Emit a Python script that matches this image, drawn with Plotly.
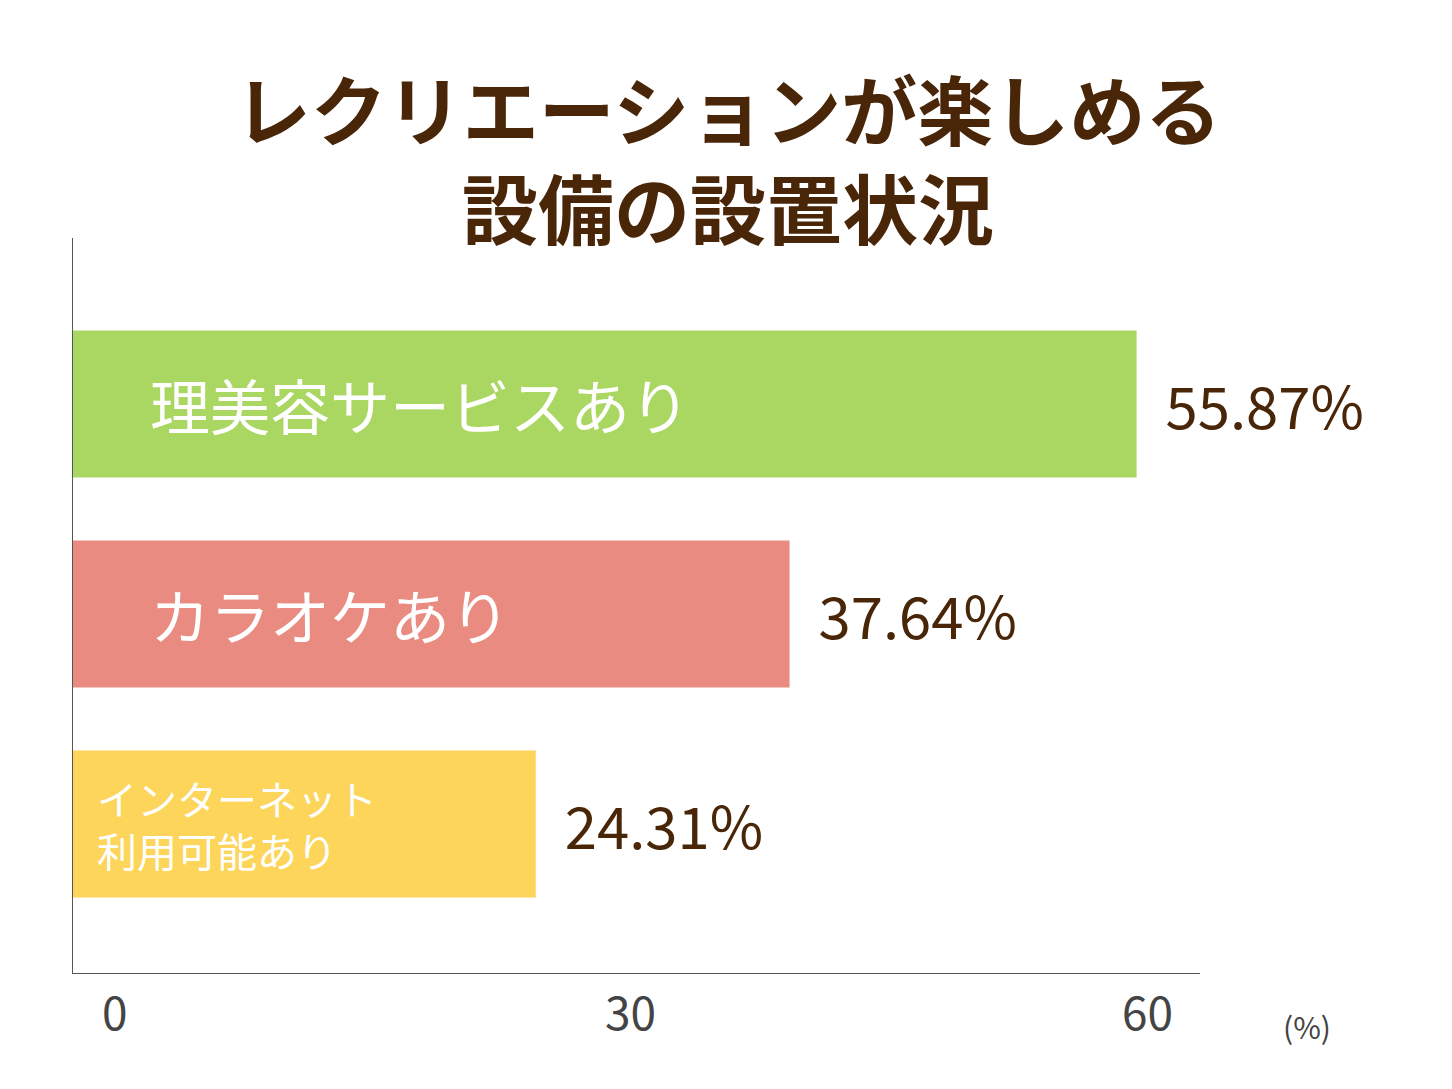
import plotly.graph_objects as go

categories = ["理美容サービスあり", "カラオケあり", "インターネット<br>利用可能あり"]
values = [55.87, 37.64, 24.31]
colors = ["#a9d762", "#ea8b81", "#fcd55a"]
label_sizes = [60, 60, 40]
label_x = [148, 148, 95]
tick_vals = [0, 30, 60]
tick_px = [100, 630, 1175]

OFF = 8  # page offset in the screenshot
W, H = 1452, 1089
L, R, T, B = 73 - OFF, 252 + OFF, 238 - OFF, 116 + OFF
pw = W - L - R
ph = H - T - B
brown = "#4a2608"
font = "Noto Sans CJK JP"

pos = list(range(len(values)))
fig = go.Figure(go.Bar(
    x=values, y=pos, orientation="h", width=0.7,
    marker=dict(color=colors, line=dict(width=0)),
    text=[f"  {v:.2f}%" for v in values], textposition="outside",
    textfont=dict(size=58, color=brown, family=font),
    cliponaxis=False,
))

for i, c in enumerate(categories):
    fig.add_annotation(x=(label_x[i] - OFF - L) / pw, xref="paper", y=pos[i], yref="y",
                       text=c, showarrow=False, xanchor="left", align="left",
                       font=dict(size=label_sizes[i], color="white", family=font))

for v, px in zip(tick_vals, tick_px):
    fig.add_annotation(x=(px - OFF - L) / pw, xref="paper",
                       y=-(1045 - OFF - (H - B)) / ph, yref="paper",
                       text=str(v), showarrow=False,
                       font=dict(size=46, color="#444", family=font))
fig.add_annotation(x=(1333 - OFF - L) / pw, xref="paper",
                   y=-(1050 - OFF - (H - B)) / ph, yref="paper",
                   text="(%)", showarrow=False,
                   font=dict(size=30, color="#444", family=font))

fig.update_layout(
    width=W, height=H, margin=dict(l=L, r=R, t=T, b=B),
    plot_bgcolor="white", paper_bgcolor="white", showlegend=False,
    title=dict(text="<b>レクリエーションが楽しめる<br>設備の設置状況</b>",
               x=(728 - OFF) / W, xanchor="center", y=1 - (140 - OFF) / H, yanchor="middle",
               font=dict(size=76, color=brown, family=font)),
    xaxis=dict(range=[0, 59.2], showticklabels=False, showgrid=False, zeroline=False,
               showline=True, linecolor="#555", linewidth=1, ticks=""),
    yaxis=dict(range=[2.71, -0.79], showticklabels=False, showgrid=False, zeroline=False,
               showline=True, linecolor="#555", linewidth=1, ticks=""),
)
fig.write_html("out.html")
